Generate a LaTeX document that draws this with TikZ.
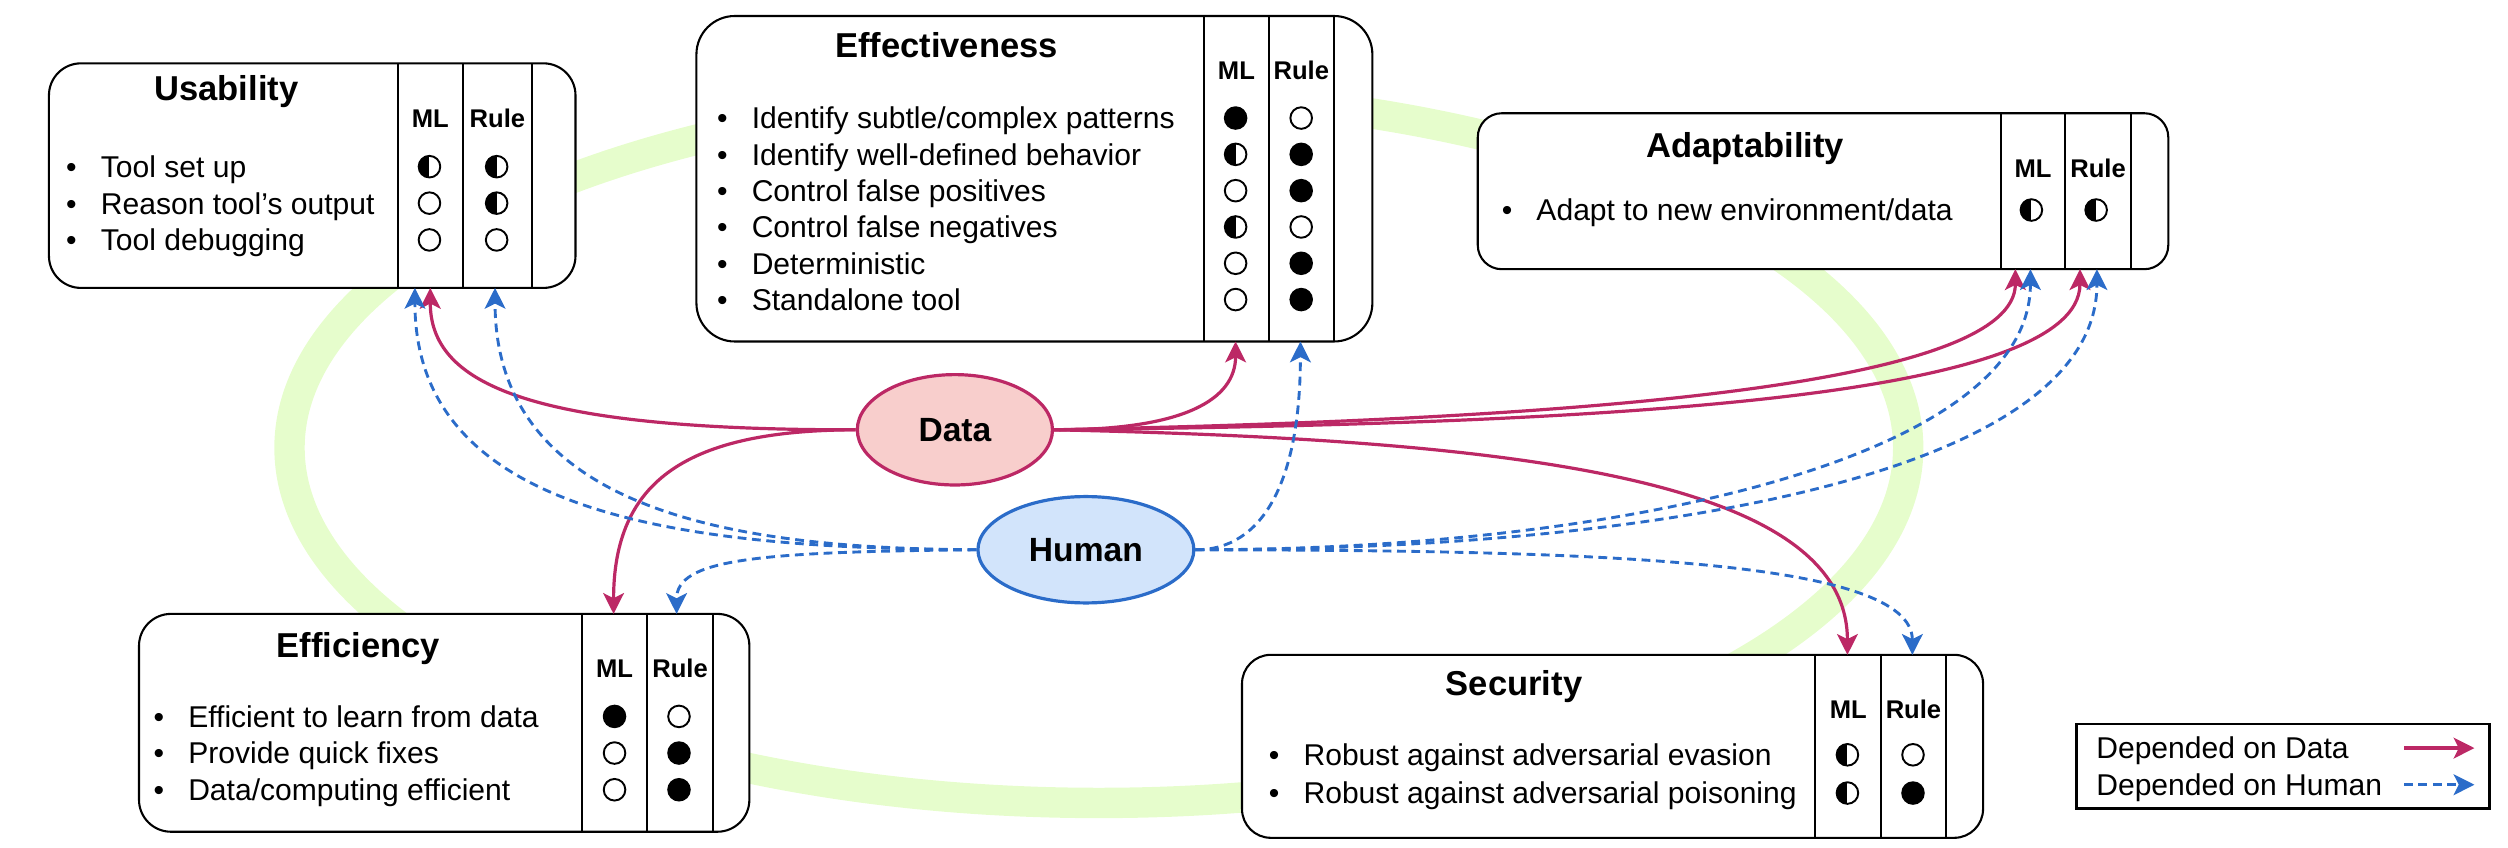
\documentclass[tikz,border=0pt]{standalone}
\usepackage{fontspec}
\setmainfont{Liberation Sans}
\usepackage{tikz}
\usetikzlibrary{arrows.meta, shapes.geometric, positioning}
\definecolor{dataline}{HTML}{BC2865}
\definecolor{datafill}{HTML}{F8CECC}
\definecolor{humanline}{HTML}{2B6CC9}
\definecolor{humanfill}{HTML}{D2E4FB}
\definecolor{ringgreen}{HTML}{E6FDCC}
\newcommand\pbb{path picture bounding box}
\tikzstyle{dataarrow} = [draw=dataline, line width=2pt, -{Stealth[length=13pt, width=13pt, inset=3.2pt]}]
\tikzstyle{humanarrow} = [draw=humanline, line width=1.8pt, dash pattern=on 5.5pt off 3.5pt, -{Stealth[length=13pt, width=13pt, inset=3.2pt]}]
\tikzset{
	critbox/.style n args={4}{rectangle, draw=black, fill=white, line width=1.3pt,
		inner sep=0pt, rounded corners=#1,
		path picture={\draw[line width=1.3pt]
			([xshift=-#2]\pbb.north east) -- ([xshift=-#2]\pbb.south east)
			([xshift=-#3]\pbb.north east) -- ([xshift=-#3]\pbb.south east)
			([xshift=-#4]\pbb.north east) -- ([xshift=-#4]\pbb.south east);
		},% end of path picture
	},
	boxtitle/.style={anchor=base, inner sep=0pt, font=\bfseries\fontsize{21.6}{26}\selectfont},
	colhead/.style={anchor=base, inner sep=0pt, font=\bfseries\fontsize{16}{19}\selectfont},
	bulletitem/.style={anchor=base west, inner sep=0pt, font=\fontsize{18.8}{22}\selectfont},
	markdot/.style={circle, draw=black, line width=1.2pt, minimum size=13.5pt, inner sep=0pt, fill=white},
	dotfull/.style={markdot, fill=black},
	dotnone/.style={markdot},
	dothalf/.style={markdot, path picture={\fill[black] (\pbb.north) rectangle (\pbb.south west);}},
	source/.style={ellipse, line width=2pt, inner sep=0pt, font=\bfseries\fontsize{21}{25}\selectfont},
}
\newcommand\itm[1]{\llap{\textbullet\hspace{15.1pt}}#1}

\begin{document}
\begin{tikzpicture}[x=1pt, y=-1pt]
\useasboundingbox (0,0) rectangle (1568,530);
%----------------------------------------------------------------------------
% Green ring behind the boxes
\draw[ringgreen, line width=19pt] (687,280) ellipse [x radius=506pt, y radius=222pt];

%----------------------------------------------------------------------------
% Criteria boxes
\node (usab) [critbox={20pt}{110.9pt}{70.3pt}{27.2pt}, minimum width=329.2pt, minimum height=140.4pt] at (195.2,109.8) {};
\node (effect) [critbox={24pt}{105.5pt}{64.6pt}{24.2pt}, minimum width=422.6pt, minimum height=203.5pt] at (646.7,111.75) {};
\node (adapt) [critbox={15pt}{104.8pt}{64.3pt}{23.6pt}, minimum width=431.7pt, minimum height=97.5pt] at (1139.75,119.55) {};
\node (effic) [critbox={20pt}{104.9pt}{63.8pt}{22.9pt}, minimum width=381.6pt, minimum height=136.2pt] at (277.7,451.9) {};
\node (secur) [critbox={18pt}{104.8pt}{63.8pt}{23.3pt}, minimum width=463.3pt, minimum height=114.4pt] at (1008.15,466.6) {};

% Usability
\node (usabT) [boxtitle] at (141.5,62.7) {Usability};
\node (usabML) [colhead] at (269,79.7) {ML};
\node (usabRU) [colhead] at (311,79.7) {Rule};
\node (usab1) [bulletitem] at (62.9,111) {\itm{Tool set up}};
\node (usab2) [bulletitem] at (62.9,133.8) {\itm{Reason tool’s output}};
\node (usab3) [bulletitem] at (62.9,156.8) {\itm{Tool debugging}};
\node (usab1ml) [dothalf] at (268.5,104.2) {};
\node (usab1ru) [dothalf] at (310.5,104.2) {};
\node (usab2ml) [dotnone] at (268.5,127) {};
\node (usab2ru) [dothalf] at (310.5,127) {};
\node (usab3ml) [dotnone] at (268.5,150) {};
\node (usab3ru) [dotnone] at (310.5,150) {};

% Effectiveness
\node (effectT) [boxtitle] at (591.7,35.7) {Effectiveness};
\node (effectML) [colhead] at (773,49.5) {ML};
\node (effectRU) [colhead] at (813.6,49.5) {Rule};
\node (effect1) [bulletitem] at (469.8,80.6) {\itm{Identify subtle/complex patterns}};
\node (effect2) [bulletitem] at (469.8,103.3) {\itm{Identify well-defined behavior}};
\node (effect3) [bulletitem] at (469.8,126) {\itm{Control false positives}};
\node (effect4) [bulletitem] at (469.8,148.7) {\itm{Control false negatives}};
\node (effect5) [bulletitem] at (469.8,171.4) {\itm{Deterministic}};
\node (effect6) [bulletitem] at (469.8,194.1) {\itm{Standalone tool}};
\node (effect1ml) [dotfull] at (772.5,73.8) {};
\node (effect1ru) [dotnone] at (813.5,73.8) {};
\node (effect2ml) [dothalf] at (772.5,96.5) {};
\node (effect2ru) [dotfull] at (813.5,96.5) {};
\node (effect3ml) [dotnone] at (772.5,119.2) {};
\node (effect3ru) [dotfull] at (813.5,119.2) {};
\node (effect4ml) [dothalf] at (772.5,141.9) {};
\node (effect4ru) [dotnone] at (813.5,141.9) {};
\node (effect5ml) [dotnone] at (772.5,164.6) {};
\node (effect5ru) [dotfull] at (813.5,164.6) {};
\node (effect6ml) [dotnone] at (772.5,187.3) {};
\node (effect6ru) [dotfull] at (813.5,187.3) {};

% Adaptability
\node (adaptT) [boxtitle] at (1091,98.3) {Adaptability};
\node (adaptML) [colhead] at (1271,110.9) {ML};
\node (adaptRU) [colhead] at (1311.7,110.9) {Rule};
\node (adapt1) [bulletitem] at (960.4,138.1) {\itm{Adapt to new environment/data}};
\node (adapt1ml) [dothalf] at (1270,131.3) {};
\node (adapt1ru) [dothalf] at (1310.5,131.3) {};

% Efficiency
\node (efficT) [boxtitle] at (224.1,410.8) {Efficiency};
\node (efficML) [colhead] at (384.2,423.4) {ML};
\node (efficRU) [colhead] at (425.2,423.4) {Rule};
\node (effic1) [bulletitem] at (117.5,454.7) {\itm{Efficient to learn from data}};
\node (effic2) [bulletitem] at (117.5,477.6) {\itm{Provide quick fixes}};
\node (effic3) [bulletitem] at (117.5,500.6) {\itm{Data/computing efficient}};
\node (effic1ml) [dotfull] at (384.2,447.9) {};
\node (effic1ru) [dotnone] at (424.5,447.9) {};
\node (effic2ml) [dotnone] at (384.2,470.8) {};
\node (effic2ru) [dotfull] at (424.5,470.8) {};
\node (effic3ml) [dotnone] at (384.2,493.75) {};
\node (effic3ru) [dotfull] at (424.5,493.75) {};

% Security
\node (securT) [boxtitle] at (946.6,434.7) {Security};
\node (securML) [colhead] at (1155.5,449.5) {ML};
\node (securRU) [colhead] at (1196.3,449.5) {Rule};
\node (secur1) [bulletitem] at (814.8,478.7) {\itm{Robust against adversarial evasion}};
\node (secur2) [bulletitem] at (814.8,502.6) {\itm{Robust against adversarial poisoning}};
\node (secur1ml) [dothalf] at (1155,471.9) {};
\node (secur1ru) [dotnone] at (1196,471.9) {};
\node (secur2ml) [dothalf] at (1155,495.8) {};
\node (secur2ru) [dotfull] at (1196,495.8) {};

%----------------------------------------------------------------------------
% Sources
\node (data) [source, draw=dataline, fill=datafill, minimum width=122pt, minimum height=69pt] at (597,268.7) {Data};
\node (human) [source, draw=humanline, fill=humanfill, minimum width=135pt, minimum height=66.5pt] at (678.9,343.7) {Human};

% Ports on the boxes
\coordinate (usabDin) at (269,180);
\coordinate (usabHin1) at (259.4,180);
\coordinate (usabHin2) at (309.5,180);
\coordinate (effectDin) at (772.5,213.5);
\coordinate (effectHin) at (813,213.5);
\coordinate (adaptDin1) at (1260,168.3);
\coordinate (adaptDin2) at (1300.4,168.3);
\coordinate (adaptHin1) at (1269.4,168.3);
\coordinate (adaptHin2) at (1311,168.3);
\coordinate (efficDin) at (383.6,383.8);
\coordinate (efficHin) at (423,383.8);
\coordinate (securDin) at (1155,409.4);
\coordinate (securHin) at (1195.6,409.4);

%----------------------------------------------------------------------------
% Lines
\draw [dataarrow] (data.west) .. controls (330,269) and (269,240) .. (usabDin);
\draw [dataarrow] (data.west) .. controls (430,269) and (383.6,300) .. (efficDin);
\draw [dataarrow] (data.east) .. controls (740,269) and (772.5,250) .. (effectDin);
\draw [dataarrow] (data.east) .. controls (1000,262) and (1260,240) .. (adaptDin1);
\draw [dataarrow] (data.east) .. controls (1000,265) and (1300.4,250) .. (adaptDin2);
\draw [dataarrow] (data.east) .. controls (950,275) and (1155,300) .. (securDin);

\draw [humanarrow] (human.west) .. controls (420,343) and (259.4,320) .. (usabHin1);
\draw [humanarrow] (human.west) .. controls (460,343) and (309.5,320) .. (usabHin2);
\draw [humanarrow] (human.west) .. controls (470,345) and (423,350) .. (efficHin);
\draw [humanarrow] (human.east) .. controls (790,344) and (813,300) .. (effectHin);
\draw [humanarrow] (human.east) .. controls (1000,344) and (1269.4,290) .. (adaptHin1);
\draw [humanarrow] (human.east) .. controls (1020,344) and (1311,300) .. (adaptHin2);
\draw [humanarrow] (human.east) .. controls (1000,344) and (1195.6,350) .. (securHin);

%----------------------------------------------------------------------------
% Legend
\node (legend) [draw, line width=1.5pt, minimum width=258pt, minimum height=53pt] at (1427.3,479) {};
\node (legData) [bulletitem] at (1310.4,474.4) {Depended on Data};
\node (legHuman) [bulletitem] at (1310.4,497.3) {Depended on Human};
\coordinate (legDs) at (1503,467.7);
\coordinate (legDe) at (1547,467.7);
\coordinate (legHs) at (1503,490.6);
\coordinate (legHe) at (1547,490.6);
\draw [dataarrow] (legDs) -- (legDe);
\draw [humanarrow] (legHs) -- (legHe);
\end{tikzpicture}
\end{document}
